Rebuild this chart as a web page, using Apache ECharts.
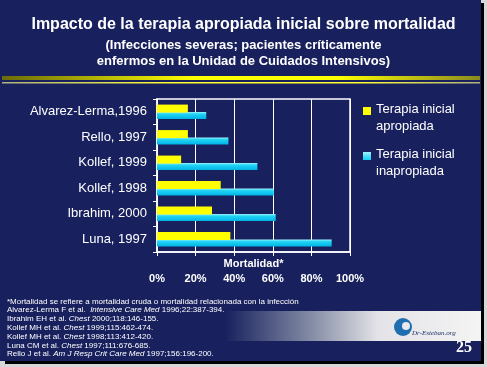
<!DOCTYPE html>
<html>
<head>
<meta charset="utf-8">
<script src="https://cdn.jsdelivr.net/npm/echarts@6/dist/echarts.min.js"></script>
<style>
html,body{margin:0;padding:0;background:#d8d8d8;}
#c{width:487px;height:367px;}
</style>
</head>
<body>
<div id="c"></div>
<script>
const categories = ['Alvarez-Lerma,1996', 'Rello, 1997', 'Kollef, 1999', 'Kollef, 1998', 'Ibrahim, 2000', 'Luna, 1997'];
const apropiada = [16, 16, 12.5, 33, 28.5, 38];
const inapropiada = [25.5, 37, 52, 60.5, 61.5, 90.5];
const xTicks = [0, 20, 40, 60, 80, 100];
const seriesNames = ['Terapia inicial\napropiada', 'Terapia inicial\ninapropiada'];
const footnotes = [
  '*Mortalidad se refiere a mortalidad cruda o mortalidad relacionada con la infección',
  'Alvarez-Lerma F et al.  {i|Intensive Care Med} 1996;22:387-394.',
  'Ibrahim EH et al. {i|Chest} 2000;118:146-155.',
  'Kollef MH et al. {i|Chest} 1999;115:462-474.',
  'Kollef MH et al. {i|Chest} 1998;113:412-420.',
  'Luna CM et al. {i|Chest} 1997;111:676-685.',
  'Rello J et al. {i|Am J Resp Crit Care Med} 1997;156:196-200.'
];

const chart = echarts.init(document.getElementById('c'), null, {renderer: 'canvas'});
const FONT = '"Liberation Sans", Arial, sans-serif';
const shadow = {textShadowColor: '#000', textShadowOffsetX: 1.5, textShadowOffsetY: 1.5, textShadowBlur: 0};

chart.setOption({
  backgroundColor: '#18215e',
  textStyle: {fontFamily: FONT},
  title: {
    text: 'Impacto de la terapia apropiada inicial sobre mortalidad',
    subtext: '(Infecciones severas; pacientes críticamente\nenfermos en la Unidad de Cuidados Intensivos)',
    left: 'center',
    top: 12,
    itemGap: 4,
    textStyle: Object.assign({color: '#fff', fontSize: 16, fontWeight: 'bold', fontFamily: FONT}, shadow),
    subtextStyle: Object.assign({color: '#fff', fontSize: 13, fontWeight: 'bold', lineHeight: 16, fontFamily: FONT}, shadow)
  },
  legend: {
    orient: 'vertical',
    left: 358,
    top: 96,
    itemWidth: 8,
    itemHeight: 22,
    itemGap: 11,
    icon: 'path://M0,0h8v8h-8z M0,21.9h0.1v0.1h-0.1z',
    selectedMode: false,
    data: seriesNames,
    textStyle: {color: '#fff', fontSize: 13, lineHeight: 17, fontFamily: FONT}
  },
  grid: {
    left: 157, right: 137, top: 99, bottom: 115,
    show: true, borderColor: '#fff', borderWidth: 1.5, backgroundColor: 'transparent'
  },
  xAxis: {
    type: 'value',
    min: 0, max: 100, interval: 20,
    name: 'Mortalidad*',
    nameLocation: 'middle',
    nameGap: 6,
    nameMoveOverlap: false,
    nameTextStyle: Object.assign({color: '#fff', fontSize: 11, fontWeight: 'bold', fontFamily: FONT, verticalAlign: 'top'}, shadow),
    axisLine: {show: true, lineStyle: {color: '#fff', width: 1.5}},
    axisTick: {show: true, length: 4, lineStyle: {color: '#fff'}},
    splitLine: {show: true, lineStyle: {color: '#fff', width: 1}},
    axisLabel: Object.assign({
      color: '#fff', fontSize: 11, fontWeight: 'bold', margin: 21,
      formatter: v => xTicks.includes(v) ? v + '%' : ''
    }, shadow)
  },
  yAxis: {
    type: 'category',
    data: categories,
    inverse: true,
    axisLine: {show: true, lineStyle: {color: '#fff', width: 1.5}},
    axisTick: {show: true, length: 4, lineStyle: {color: '#fff'}},
    axisLabel: Object.assign({color: '#fff', fontSize: 13, margin: 10}, shadow),
    splitLine: {show: false}
  },
  series: [
    {
      name: seriesNames[0],
      type: 'bar',
      data: apropiada,
      barWidth: 8,
      barGap: '-8%',
      itemStyle: {color: '#ffff00'},
      z: 3
    },
    {
      name: seriesNames[1],
      type: 'bar',
      data: inapropiada,
      barWidth: 7,
      itemStyle: {
        color: new echarts.graphic.LinearGradient(0, 0, 0, 1, [
          {offset: 0, color: '#9ff4ff'},
          {offset: 0.3, color: '#22d4f4'},
          {offset: 1, color: '#00b4e6'}
        ])
      },
      z: 2
    }
  ],
  graphic: [
    {type: 'rect', shape: {x: 2, y: 76, width: 478, height: 4},
      style: {fill: new echarts.graphic.LinearGradient(0, 0, 1, 0, [
        {offset: 0, color: '#6a6a08'}, {offset: 0.4, color: '#ffff00'},
        {offset: 0.7, color: '#ffff00'}, {offset: 1, color: '#8a8a20'}])}},
    {type: 'rect', shape: {x: 2, y: 82, width: 478, height: 1.5},
      style: {fill: new echarts.graphic.LinearGradient(0, 0, 1, 0, [
        {offset: 0, color: '#b0b080'}, {offset: 0.35, color: '#ffff30'},
        {offset: 0.75, color: '#ffff30'}, {offset: 1, color: '#b0b080'}])}},
    {type: 'rect', shape: {x: 225, y: 311, width: 256, height: 30}, z: -1,
      style: {fill: new echarts.graphic.LinearGradient(0, 0, 1, 0, [
        {offset: 0, color: 'rgba(24,33,94,1)'}, {offset: 0.35, color: '#8890a8'},
        {offset: 0.6, color: '#e4e4e8'}, {offset: 1, color: '#f4f4f4'}])}},
    {type: 'circle', shape: {cx: 403, cy: 327, r: 9}, style: {fill: '#1f6fb0'}},
    {type: 'circle', shape: {cx: 406, cy: 326, r: 4}, style: {fill: '#e8e8ee'}},
    {type: 'text', left: 412, top: 330,
      style: {text: 'Dr-Esteban.org', fill: '#20306a', font: 'italic 7px "Liberation Serif", serif'}},
    {type: 'text', left: 456, top: 340,
      style: {text: '25', fill: '#fff', font: 'bold 16px "Liberation Serif", serif'}},
    {type: 'text', left: 7, top: 297,
      style: {
        text: footnotes.join('\n'),
        fill: '#fff', fontSize: 8, lineHeight: 8.8, fontFamily: FONT,
        rich: {i: {fontStyle: 'italic', fill: '#fff', fontSize: 8, lineHeight: 8.8, fontFamily: FONT}}
      }},
    {type: 'rect', shape: {x: 481, y: 0, width: 6, height: 367}, style: {fill: '#d8d8d8'}},
    {type: 'rect', shape: {x: 0, y: 361, width: 487, height: 6}, style: {fill: '#d8d8d8'}},
    {type: 'rect', shape: {x: 481, y: 3, width: 3, height: 361}, style: {fill: '#000'}},
    {type: 'rect', shape: {x: 5, y: 361, width: 479, height: 3}, style: {fill: '#000'}}
  ]
});
</script>
</body>
</html>
